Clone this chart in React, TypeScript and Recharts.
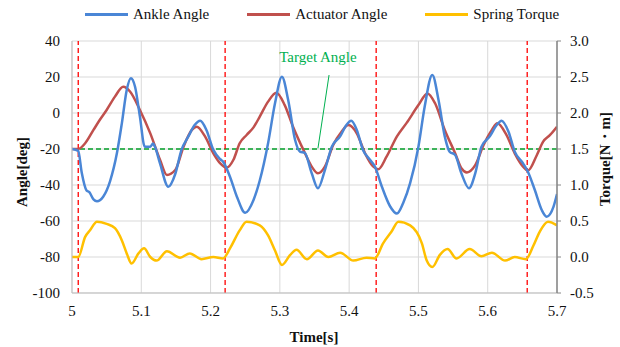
import React from 'react';
import { LineChart, Line, XAxis, YAxis, CartesianGrid, ReferenceLine, ReferenceDot, Legend } from 'recharts';

const FONT = '"Liberation Serif", "Times New Roman", serif';

const timeTicks = [5, 5.1, 5.2, 5.3, 5.4, 5.5, 5.6, 5.7];
const angleTicks = [-100, -80, -60, -40, -20, 0, 20, 40];
const torqueTicks = [-0.5, 0, 0.5, 1, 1.5, 2, 2.5, 3];
const targetAngle = -20;
const gaitEvents = [5.009, 5.221, 5.439, 5.657];
const targetLabel = { t: 5.355, v: 31.3, text: 'Target Angle' };
const targetLeader = [
  { t: 5.355, v: -19.6 },
  { t: 5.371, v: 21.1 },
];

const ankleTime = [
  5.0, 5.009, 5.014, 5.021, 5.025, 5.031, 5.036, 5.045, 5.055, 5.065, 5.072, 5.079, 5.085, 5.091, 5.098,
  5.105, 5.113, 5.117, 5.12, 5.127, 5.139, 5.149, 5.158, 5.168, 5.177, 5.185, 5.194, 5.204, 5.214, 5.218,
  5.228, 5.238, 5.25, 5.262, 5.271, 5.283, 5.293, 5.303, 5.312, 5.322, 5.329, 5.336, 5.346, 5.355, 5.365,
  5.375, 5.387, 5.396, 5.403, 5.411, 5.42, 5.43, 5.437, 5.447, 5.459, 5.469, 5.478, 5.488, 5.5, 5.509,
  5.52, 5.529, 5.538, 5.545, 5.553, 5.562, 5.573, 5.582, 5.591, 5.603, 5.613, 5.62, 5.63, 5.639, 5.651,
  5.658, 5.668, 5.678, 5.685, 5.695, 5.7,
];
const ankleAngle = [
  -20, -21, -33, -43, -44, -48, -49, -46.5, -37.8, -22, -5.6, 12.8, 19.3, 14.6, -2,
  -18.7, -18.7, -17, -19, -28, -41, -33.9, -20.5, -13, -6.7, -4.3, -9.4, -20.5, -25.7, -27,
  -35.4, -46.5, -55.4, -48.3, -37.5, -16.8, 5.4, 20.2, 7.2, -15, -21.5, -22.2, -33.5, -41.8, -31.7,
  -18.7, -13, -6.7, -4.3, -9.4, -20.5, -26, -29.6, -40.7, -51.8, -55.9, -50, -39, -18.7, 3.5,
  21.1, 7.2, -13, -21.5, -23.3, -33.5, -41.8, -33.5, -18.7, -13, -6.7, -4.3, -10.4, -21.5, -28,
  -32.6, -42.8, -53.9, -57.6, -52, -45,
];

const actuatorTime = [
  5.0, 5.009, 5.019, 5.031, 5.04, 5.05, 5.062, 5.074, 5.084, 5.098, 5.113, 5.127, 5.137, 5.149, 5.161,
  5.173, 5.18, 5.192, 5.204, 5.214, 5.223, 5.233, 5.242, 5.252, 5.262, 5.271, 5.283, 5.295, 5.307, 5.319,
  5.334, 5.346, 5.355, 5.365, 5.377, 5.389, 5.399, 5.411, 5.423, 5.435, 5.442, 5.454, 5.469, 5.483, 5.5,
  5.513, 5.524, 5.538, 5.553, 5.562, 5.57, 5.582, 5.594, 5.606, 5.614, 5.627, 5.639, 5.651, 5.658, 5.671,
  5.68, 5.69, 5.7,
];
const actuatorAngle = [
  -20, -20, -16.8, -9.4, -3.9, 1.7, 9.1, 14.6, 11.8, 1.7, -11.3, -26, -34.4, -31.7, -18.7,
  -9.4, -7.6, -13, -22.4, -28, -30.4, -26, -16.8, -12.2, -8, -2, 6.3, 11.3, 4.4, -7.6,
  -20.5, -29.8, -33.5, -29.8, -17.8, -10.4, -6.7, -11.3, -22.4, -29.8, -31.3, -24.3, -13, -5.5, 4.4,
  10.9, 5.4, -9.4, -22.4, -30.7, -33, -29, -17.8, -9.4, -5.7, -12.2, -22.4, -29.8, -32, -23.3,
  -15.9, -12.2, -7.6,
];

const torqueTime = [
  5.0, 5.009, 5.019, 5.026, 5.036, 5.05, 5.062, 5.072, 5.079, 5.086, 5.096, 5.104, 5.113, 5.122, 5.137,
  5.156, 5.17, 5.187, 5.204, 5.218, 5.228, 5.242, 5.252, 5.271, 5.283, 5.293, 5.303, 5.315, 5.324, 5.339,
  5.355, 5.37, 5.387, 5.406, 5.425, 5.437, 5.449, 5.461, 5.471, 5.488, 5.505, 5.512, 5.52, 5.531, 5.542,
  5.555, 5.574, 5.591, 5.606, 5.625, 5.639, 5.655, 5.666, 5.675, 5.687, 5.7,
];
const springTorque = [
  0.0, 0.0, 0.28, 0.37, 0.49, 0.46, 0.4, 0.23, 0.05, -0.09, 0.05, 0.12, 0.0, -0.05, 0.08,
  -0.01, 0.05, -0.03, 0.0, -0.02, 0.12, 0.37, 0.49, 0.44, 0.3, 0.09, -0.11, 0.03, 0.1, -0.03,
  0.09, 0.0, 0.06, -0.05, -0.01, -0.02, 0.19, 0.35, 0.49, 0.44, 0.19, -0.05, -0.14, 0.03, 0.11,
  -0.02, 0.11, 0.01, 0.06, -0.05, 0.0, -0.03, 0.16, 0.35, 0.49, 0.44,
];

const seriesNames = ['Ankle Angle', 'Actuator Angle', 'Spring Torque'];
const seriesColors = ['#4A86D6', '#C0504D', '#FFC000'];

const ankleData = ankleTime.map((t, i) => ({ t, v: ankleAngle[i] }));
const actuatorData = actuatorTime.map((t, i) => ({ t, v: actuatorAngle[i] }));
const torqueData = torqueTime.map((t, i) => ({ t, v: springTorque[i] }));

const tickStyle = { fill: '#111', fontSize: 15, fontFamily: FONT };

const renderLegend = () => (
  <div style={{ display: 'flex', alignItems: 'center', fontFamily: FONT, fontSize: 15, color: '#111' }}>
    {seriesNames.map((name, i) => (
      <div key={name} style={{ display: 'flex', alignItems: 'center', marginRight: i < 2 ? 38 : 0 }}>
        <div style={{ width: 43, height: 3, background: seriesColors[i], marginRight: 5 }} />
        <span>{name}</span>
      </div>
    ))}
  </div>
);

const leftTitle = () => (
  <text x={22} y={172} transform="rotate(-90 22 172)" textAnchor="middle" dominantBaseline="central"
    style={{ fontFamily: FONT, fontSize: 15, fontWeight: 'bold', fill: '#111' }}>Angle[deg]</text>
);
const rightTitle = () => (
  <text x={605} y={159} transform="rotate(-90 605 159)" textAnchor="middle" dominantBaseline="central"
    style={{ fontFamily: FONT, fontSize: 15, fontWeight: 'bold', fill: '#111' }}>Torque[N・m]</text>
);
const bottomTitle = () => (
  <text x={314} y={337} textAnchor="middle" dominantBaseline="central"
    style={{ fontFamily: FONT, fontSize: 15, fontWeight: 'bold', fill: '#111' }}>Time[s]</text>
);

export default function App() {
  return (
    <div style={{ position: 'absolute', left: 0, top: 0, width: 620, height: 347, background: '#fff' }}>
      <LineChart width={620} height={347} margin={{ top: 41, right: 0, bottom: 24, left: 0 }}>
        <CartesianGrid yAxisId="left" stroke="#D9D9D9" strokeWidth={1} />
        <XAxis dataKey="t" type="number" domain={[5, 5.7]} ticks={timeTicks} allowDataOverflow
          tickFormatter={(v: number) => (v === 5 ? '5' : v.toFixed(1))}
          tick={tickStyle} tickLine={false} tickSize={6} tickMargin={6} height={30}
          axisLine={{ stroke: '#BFBFBF' }} label={{ content: bottomTitle }} />
        <YAxis yAxisId="left" domain={[-100, 40]} ticks={angleTicks} allowDataOverflow width={72}
          tick={tickStyle} tickLine={false} tickSize={6} tickMargin={6}
          axisLine={{ stroke: '#BFBFBF' }} label={{ content: leftTitle }} />
        <YAxis yAxisId="right" orientation="right" domain={[-0.5, 3]} ticks={torqueTicks} allowDataOverflow width={63}
          tickFormatter={(v: number) => v.toFixed(1)}
          tick={tickStyle} tickLine={{ stroke: '#868686' }} tickSize={4} tickMargin={9}
          axisLine={{ stroke: '#868686', strokeWidth: 1.5 }} label={{ content: rightTitle }} />
        <Legend verticalAlign="middle" align="center" layout="horizontal" content={renderLegend}
          wrapperStyle={{ top: 6, left: 85, width: 520 }} />
        <ReferenceLine yAxisId="left" y={targetAngle} stroke="#3DB35A" strokeWidth={2} strokeDasharray="5 3" />
        {gaitEvents.map((t) => (
          <ReferenceLine key={t} yAxisId="left" x={t} stroke="#FF0000" strokeWidth={1.3} strokeDasharray="5 3" />
        ))}
        <Line yAxisId="left" data={actuatorData} dataKey="v" name={seriesNames[1]} type="monotone"
          stroke={seriesColors[1]} strokeWidth={2.5} dot={false} isAnimationActive={false} />
        <Line yAxisId="left" data={ankleData} dataKey="v" name={seriesNames[0]} type="monotone"
          stroke={seriesColors[0]} strokeWidth={2.5} dot={false} isAnimationActive={false} />
        <Line yAxisId="right" data={torqueData} dataKey="v" name={seriesNames[2]} type="monotone"
          stroke={seriesColors[2]} strokeWidth={2.5} dot={false} isAnimationActive={false} />
        <ReferenceLine yAxisId="left" segment={[{ x: targetLeader[0].t, y: targetLeader[0].v }, { x: targetLeader[1].t, y: targetLeader[1].v }]}
          stroke="#00B050" strokeWidth={1} />
        <ReferenceDot yAxisId="left" x={targetLabel.t} y={targetLabel.v} r={0} stroke="none" fill="none"
          label={{ value: targetLabel.text, position: 'center', fill: '#00B050', fontSize: 15, fontFamily: FONT }} />
      </LineChart>
    </div>
  );
}
